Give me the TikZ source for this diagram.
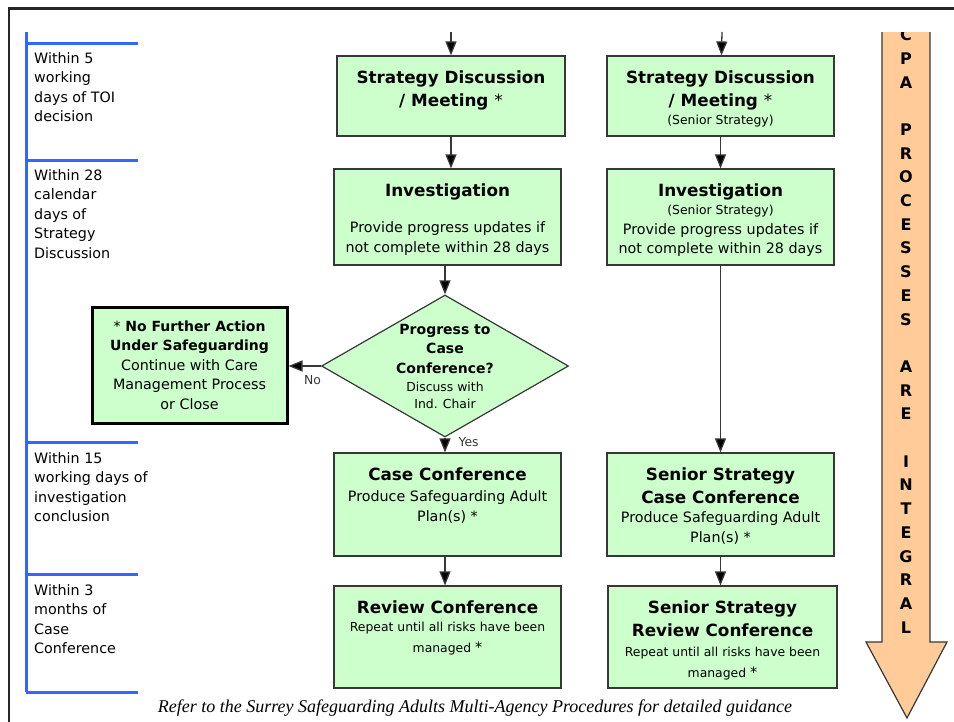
\documentclass[tikz,border=0pt]{standalone}
\usepackage{fontspec}
\setmainfont{DejaVu Sans}
\newfontfamily\guidefont{Liberation Serif}
\usetikzlibrary{arrows.meta,shapes.geometric}

\definecolor{stagegreen}{RGB}{204,255,204}
\definecolor{cpaorange}{RGB}{255,204,153}
\definecolor{timeblue}{RGB}{51,102,255}
\definecolor{edgegrey}{RGB}{55,55,55}

\newcommand{\headfont}{\fontsize{16.8}{23}\selectfont\bfseries}
\newcommand{\keyfont}{\fontsize{14}{19.5}\selectfont\bfseries}
\newcommand{\bodyfont}{\fontsize{14.3}{19.6}\selectfont}
\newcommand{\notefont}{\fontsize{12.4}{18.5}\selectfont}
\newcommand{\stagebox}[3]{\parbox[c][#2pt][t]{#1pt}{\centering\rule{0pt}{27pt}#3}}

\begin{document}
\begin{tikzpicture}[x=1pt,y=-1pt,
  stage/.style={draw=edgegrey, fill=stagegreen, line width=1.2pt, inner sep=0pt},
  choice/.style={diamond, draw=edgegrey, fill=stagegreen, line width=1.2pt, inner sep=0pt,
    aspect=1.74, minimum width=247pt, minimum height=142pt, align=center, font=\keyfont},
  phase/.style={anchor=north west, align=left, inner sep=0pt, font=\bodyfont},
  timeline/.style={timeblue, line width=3pt},
  flow/.style={edgegrey, line width=1.3pt, -{Triangle[length=14pt,width=11pt,fill=black]}},
  tag/.style={inner sep=0pt, font=\notefont},
  cpa/.style={align=center, inner sep=0pt, font=\fontsize{16}{23.7}\selectfont\bfseries}]
\useasboundingbox (0,0) rectangle (954,721);
\fill[white] (0,0) rectangle (954,721);
% outer frame
\draw[line width=2.5pt, black!85] (9,740) -- (9,8.5) -- (970,8.5);

% time scale on the left
\draw[timeline] (26,32) -- (26,692);
\draw[timeline] (26,43) -- (138,43);
\draw[timeline] (26,160) -- (138,160);
\draw[timeline] (26,442) -- (138,442);
\draw[timeline] (26,574) -- (138,574);
\draw[timeline] (26,692) -- (138,692);
\node[phase] (t1) at (34,52) {Within 5\\working\\days of TOI\\decision};
\node[phase] (t2) at (34,169) {Within 28\\calendar\\days of\\Strategy\\Discussion};
\node[phase] (t3) at (34,452) {Within 15\\working days of\\investigation\\conclusion};
\node[phase] (t4) at (34,584) {Within 3\\months of\\Case\\Conference};

% left column
\node[stage] (sdl) at (451,96) {\stagebox{228}{80}{{\headfont Strategy Discussion\\/ Meeting \mdseries*\par}}};
\node[stage] (invl) at (447.5,217) {\stagebox{227}{96}{{\headfont Investigation\par}\vspace{17pt}{\bodyfont Provide progress updates if\\not complete within 28 days\par}}};
\node[choice] (dec) at (445,366) {Progress to\\Case\\Conference?\\[-1.5pt]{\notefont\mdseries Discuss with}\\[-2.5pt]{\notefont\mdseries Ind. Chair}};
\node[stage, draw=black, line width=3pt, minimum width=195pt, minimum height=116pt, align=center, font=\bodyfont] (nfa) at (189.5,365)
  {{\keyfont{\mdseries*} No Further Action}\\{\keyfont Under Safeguarding}\\Continue with Care\\Management Process\\or Close};
\node[stage] (ccl) at (447.5,504.5) {\stagebox{227}{103}{{\headfont Case Conference\par}\vspace{2pt}{\bodyfont Produce Safeguarding Adult\\Plan(s) *\par}}};
\node[stage] (rvl) at (447.5,637) {\stagebox{227}{102}{{\headfont Review Conference\par}{\notefont Repeat until all risks have been\\[2pt]managed {\bodyfont*}\par}}};

% right column (senior strategy)
\node[stage] (sdr) at (720.5,96) {\stagebox{227}{80}{{\headfont Strategy Discussion\\/ Meeting \mdseries*\par}{\notefont (Senior Strategy)\par}}};
\node[stage] (invr) at (720.5,217) {\stagebox{227}{96}{{\headfont Investigation\par}{\notefont (Senior Strategy)\par}{\bodyfont Provide progress updates if\\not complete within 28 days\par}}};
\node[stage] (ccr) at (720.5,504.5) {\stagebox{227}{103}{{\headfont Senior Strategy\\Case Conference\par}{\bodyfont Produce Safeguarding Adult\\Plan(s) *\par}}};
\node[stage] (rvr) at (722.5,637) {\stagebox{229}{102}{{\headfont Senior Strategy\\Review Conference\par}\vspace{2pt}{\notefont Repeat until all risks have been\\[2pt]managed {\bodyfont*}\par}}};

% connectors
\coordinate (inl) at (451,32);
\coordinate (inr) at (722,32);
\draw[flow] (inl) -- (sdl);
\draw[flow] (sdl) -- (sdl |- invl.north);
\draw[flow] (invl.south -| dec.north) -- (dec);
\draw[flow] (dec) -- (dec -| nfa.east) node[tag, pos=.26, below=8.5pt] (no) {No};
\draw[flow] (dec) -- (dec |- ccl.north) node[tag, pos=.3, right=13pt] (yes) {Yes};
\draw[flow] (dec |- ccl.south) -- (dec |- rvl.north);
\draw[flow] (inr) -- (sdr);
\draw[flow] (sdr) -- (sdr |- invr.north);
\draw[flow] (invr) -- (invr |- ccr.north);
\draw[flow] (ccr) -- (ccr |- rvr.north);

% CPA arrow, cut off at the top
\begin{scope}
\clip (850,32) rectangle (954,721);
\fill[cpaorange] (882,20) -- (882,642) -- (866,642) -- (907,718) -- (947,642) -- (930,642) -- (930,20) -- cycle;
\draw[edgegrey, line width=1.2pt, line join=miter] (882,20) -- (882,642) -- (866,642) -- (907,718) -- (947,642) -- (930,642) -- (930,20);
\node[cpa] (cpa) at (906,331) {C\\P\\A\\[23.7pt]P\\R\\O\\C\\E\\S\\S\\E\\S\\[23.7pt]A\\R\\E\\[23.7pt]I\\N\\T\\E\\G\\R\\A\\L};
\end{scope}

\node[font=\guidefont\itshape\fontsize{18}{21}\selectfont, inner sep=0pt] (guide) at (475,708)
  {Refer to the Surrey Safeguarding Adults Multi-Agency Procedures for detailed guidance};
\end{tikzpicture}
\end{document}
